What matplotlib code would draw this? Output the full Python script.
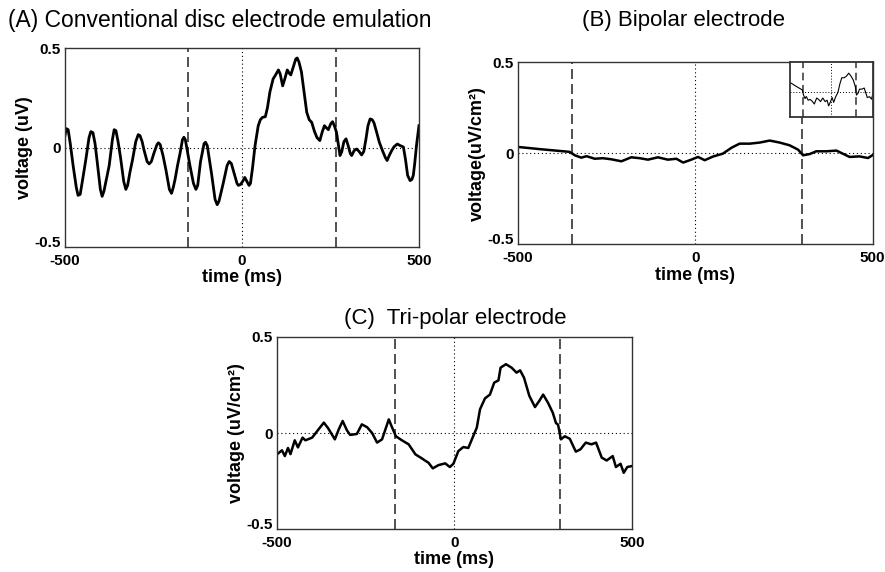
import matplotlib
matplotlib.use("Agg")
import matplotlib.pyplot as plt
import matplotlib.transforms as mtransforms

plt.rcParams['font.family'] = ['Liberation Sans', 'DejaVu Sans']

# (A) conventional disc electrode emulation
a_time = [-500, -496, -491, -485, -477, -468, -463, -457, -450, -441, -432, -427,
          -421, -415, -409, -400, -395, -390, -383, -375, -366, -361, -356, -350,
          -343, -334, -328, -323, -316, -309, -300, -293, -288, -282, -277, -268,
          -262, -256, -249, -240, -236, -231, -223, -215, -205, -199, -194, -189,
          -182, -175, -168, -164, -160, -154, -147, -137, -130, -125, -117, -107,
          -103, -98, -92, -86, -76, -70, -65, -53, -42, -36, -30, -22, -14, -10,
          -4, 2, 8, 14, 20, 24, 30, 37, 46, 52, 58, 66, 72, 79, 88, 95, 103, 108,
          115, 121, 128, 133, 138, 146, 152, 156, 161, 168, 176, 183, 190, 197,
          205, 212, 220, 227, 233, 238, 244, 251, 256, 261, 267, 272, 277, 282,
          288, 294, 300, 306, 310, 317, 324, 331, 338, 344, 350, 356, 362, 368,
          373, 380, 388, 398, 405, 410, 416, 423, 430, 439, 447, 456, 462, 468,
          475, 480, 484, 488, 493, 500]
a_volt = [0.06, 0.095, 0.09, 0.02, -0.09, -0.2, -0.24, -0.235, -0.16, -0.06, 0.05,
          0.08, 0.075, 0.02, -0.07, -0.21, -0.245, -0.22, -0.16, -0.09, 0.04, 0.09,
          0.085, 0.03, -0.05, -0.17, -0.21, -0.19, -0.12, -0.06, 0.03, 0.065, 0.06,
          0.03, -0.01, -0.07, -0.082, -0.07, -0.03, 0.015, 0.024, 0.015, -0.04,
          -0.11, -0.21, -0.23, -0.2, -0.16, -0.09, -0.03, 0.04, 0.052, 0.04, -0.02,
          -0.09, -0.18, -0.21, -0.19, -0.07, 0.02, 0.027, 0.01, -0.06, -0.13, -0.26,
          -0.287, -0.27, -0.18, -0.09, -0.07, -0.08, -0.13, -0.18, -0.19, -0.185,
          -0.17, -0.15, -0.17, -0.19, -0.18, -0.1, 0.01, 0.11, 0.14, 0.152, 0.155,
          0.2, 0.28, 0.345, 0.365, 0.39, 0.37, 0.31, 0.345, 0.39, 0.375, 0.365,
          0.41, 0.445, 0.45, 0.43, 0.38, 0.27, 0.177, 0.14, 0.127, 0.08, 0.05,
          0.035, 0.08, 0.11, 0.1, 0.09, 0.12, 0.13, 0.11, 0.077, 0.02, -0.04,
          -0.02, 0.03, 0.044, 0.01, -0.03, -0.04, -0.015, -0.007, -0.02, -0.037,
          -0.02, 0.04, 0.11, 0.144, 0.14, 0.124, 0.08, 0.027, -0.02, -0.05, -0.065,
          -0.04, -0.015, 0.005, 0.018, 0.01, 0.003, -0.06, -0.14, -0.166, -0.16,
          -0.14, -0.08, 0.01, 0.11]
a_marks = [-152, 266]

# (B) bipolar electrode
b_time = [-500, -433, -354, -339, -321, -306, -283, -260, -236, -208, -180, -156,
          -133, -105, -77, -53, -34, -11, 8, 27, 50, 78, 102, 125, 154, 182, 210,
          238, 266, 290, 304, 323, 341, 370, 398, 435, 463, 487, 500]
b_volt = [0.035, 0.022, 0.008, -0.011, -0.024, -0.016, -0.03, -0.027, -0.033,
          -0.044, -0.022, -0.027, -0.035, -0.022, -0.035, -0.03, -0.051, -0.035,
          -0.02, -0.038, -0.018, -0.002, 0.03, 0.053, 0.053, 0.059, 0.07, 0.059,
          0.044, 0.02, -0.011, -0.004, 0.011, 0.011, 0.015, -0.02, -0.017, -0.026,
          -0.01]
b_marks = [-348, 300]

# (C) tri-polar electrode
c_time = [-500, -486, -478, -469, -462, -450, -441, -428, -420, -401, -383, -368,
          -356, -337, -326, -315, -303, -294, -275, -261, -246, -232, -218, -204,
          -185, -176, -165, -148, -129, -110, -92, -73, -61, -45, -26, -13, -3, 11,
          25, 39, 53, 63, 72, 86, 100, 112, 124, 130, 145, 161, 175, 185, 196, 211,
          227, 239, 250, 264, 277, 286, 292, 300, 311, 325, 342, 355, 370, 386,
          399, 415, 429, 446, 455, 468, 477, 487, 500]
c_volt = [-0.111, -0.09, -0.12, -0.078, -0.11, -0.038, -0.075, -0.024, -0.038,
          -0.024, 0.019, 0.054, 0.025, -0.033, 0.019, 0.0625, 0.014, -0.01, -0.005,
          0.045, 0.03, 0.0, -0.05, -0.033, 0.071, 0.03, -0.017, -0.038, -0.059,
          -0.111, -0.132, -0.155, -0.184, -0.167, -0.158, -0.177, -0.16, -0.094,
          -0.073, -0.078, -0.016, 0.028, 0.123, 0.18, 0.2, 0.262, 0.274, 0.34,
          0.358, 0.34, 0.314, 0.326, 0.288, 0.193, 0.135, 0.167, 0.2, 0.156, 0.106,
          0.052, 0.043, -0.033, -0.017, -0.03, -0.097, -0.085, -0.05, -0.059, -0.05,
          -0.128, -0.143, -0.12, -0.177, -0.16, -0.207, -0.177, -0.172]
c_marks = [-168, 297]

x_ticks = [-500, 0, 500]
x_tick_labels = ['-500', '0', '500']
y_ticks = [-0.5, 0, 0.5]
y_tick_labels = ['-0.5', '0', '0.5']

fig = plt.figure(figsize=(8.85, 5.72), dpi=100)


def style_panel(ax, t, v, marks, ylabel, lw):
    ax.axhline(0, color='black', lw=0.8, ls=(0, (1, 2.5)))
    ax.axvline(0, color='black', lw=0.8, ls=(0, (1, 2.5)))
    for m in marks:
        ax.axvline(m, color='#333333', lw=1.2, ls=(0, (6, 3)))
    ax.plot(t, v, color='black', lw=lw, solid_joinstyle='round')
    ax.set_xlim(-500, 500)
    ax.set_ylim(-0.5, 0.5)
    ax.set_xticks(x_ticks)
    ax.set_xticklabels(x_tick_labels)
    ax.set_yticks(y_ticks)
    ax.set_yticklabels(y_tick_labels)
    ax.tick_params(length=0, labelsize=11)
    ax.tick_params(axis='x', pad=5)
    ax.tick_params(axis='y', pad=3)
    for lab in ax.get_xticklabels() + ax.get_yticklabels():
        lab.set_fontweight('bold')
    # lift the bottom y label a little so it clears the -500 label
    low = ax.get_yticklabels()[0]
    low.set_transform(low.get_transform() +
                      mtransforms.ScaledTranslation(0, 4 / 72, fig.dpi_scale_trans))
    for s in ax.spines.values():
        s.set_color('#333333')
        s.set_linewidth(1.0)
    ax.set_xlabel('time (ms)', fontsize=13, fontweight='bold', labelpad=1)
    ax.set_ylabel(ylabel, fontsize=13, fontweight='bold', labelpad=1)


ax_a = fig.add_axes([0.0734, 0.568, 0.400, 0.348])
style_panel(ax_a, a_time, a_volt, a_marks, 'voltage (uV)', 2.0)

ax_b = fig.add_axes([0.585, 0.573, 0.401, 0.318])
style_panel(ax_b, b_time, b_volt, b_marks, 'voltage(uV/cm²)', 1.8)

ax_c = fig.add_axes([0.313, 0.075, 0.401, 0.336])
style_panel(ax_c, c_time, c_volt, c_marks, 'voltage (uV/cm²)', 1.8)

# zoomed inset of the bipolar trace
ax_in = fig.add_axes([0.893, 0.795, 0.093, 0.096])
ax_in.axhline(0, color='black', lw=0.7, ls=(0, (1, 2)))
ax_in.axvline(0, color='black', lw=0.7, ls=(0, (1, 2)))
for m in b_marks:
    ax_in.axvline(m, color='#333333', lw=1.1, ls=(0, (5, 3)))
ax_in.plot(b_time, b_volt, color='black', lw=0.8)
ax_in.set_xlim(-500, 500)
ax_in.set_ylim(-0.093, 0.11)
ax_in.set_xticks([])
ax_in.set_yticks([])
for s in ax_in.spines.values():
    s.set_color('#333333')
    s.set_linewidth(1.3)

fig.text(0.248, 0.965, '(A) Conventional disc electrode emulation',
         ha='center', va='center', fontsize=16.5)
fig.text(0.772, 0.965, '(B) Bipolar electrode',
         ha='center', va='center', fontsize=16)
fig.text(0.514, 0.444, '(C)  Tri-polar electrode',
         ha='center', va='center', fontsize=16)

fig.savefig('out.png', dpi=100)
